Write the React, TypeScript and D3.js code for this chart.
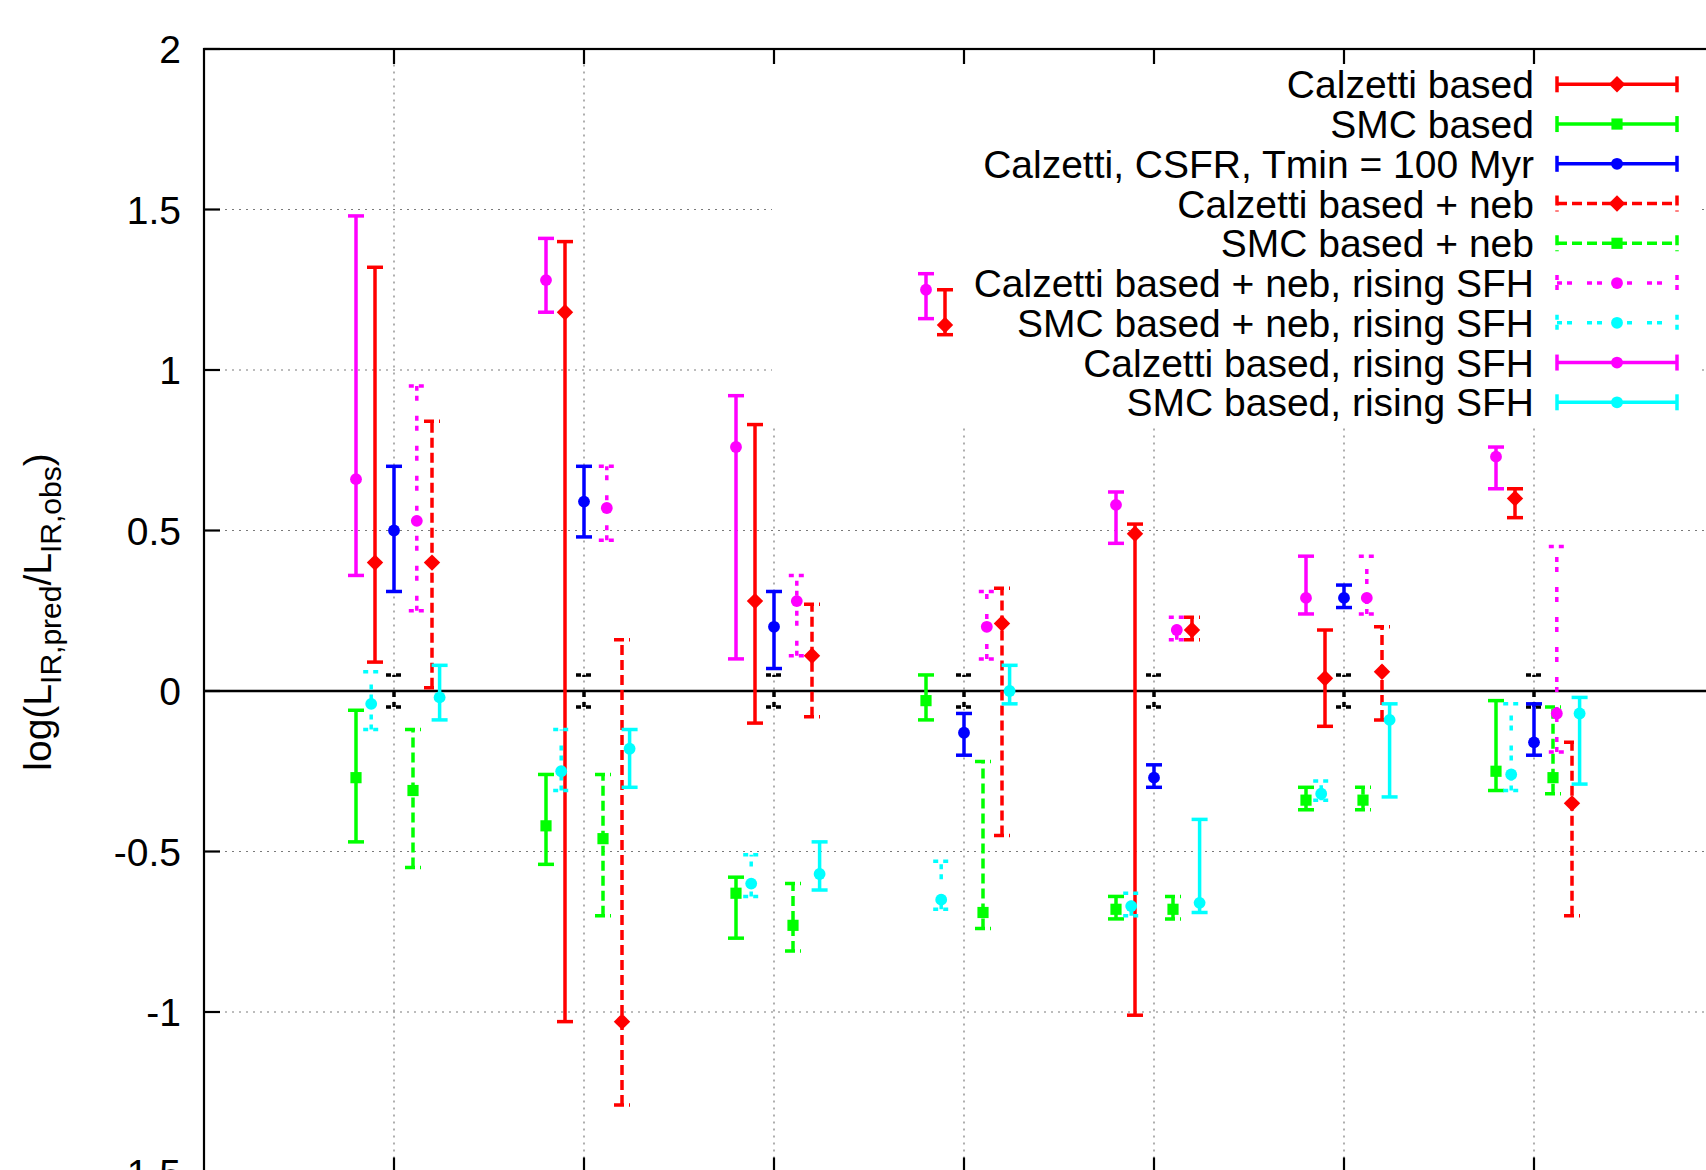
import React from 'react';
import * as d3 from 'd3';

const width = 1706;
const height = 1170;
const margin = {top: 49, left: 204};
const plotRight = 1724;
const plotBottom = 1172.5;
const font = '"Liberation Sans", Arial, Helvetica, sans-serif';

// group positions along x (no labels visible in the crop)
const groups = [1, 2, 3, 4, 5, 6, 7];
const xTicks = [1, 2, 3, 4, 5, 6, 7];
const yTicks = [-1.5, -1, -0.5, 0, 0.5, 1, 1.5, 2];
const yTickLabels = ['-1.5', '-1', '-0.5', '0', '0.5', '1', '1.5', '2'];
const yGrid = [-1, -0.5, 0.5, 1, 1.5];

// [value, low, high] for each group
const calzettiBased = [[0.40, 0.09, 1.32], [1.18, -1.03, 1.40], [0.28, -0.10, 0.83], [1.14, 1.11, 1.25], [0.49, -1.01, 0.52], [0.04, -0.11, 0.19], [0.60, 0.54, 0.63]];
const smcBased = [[-0.27, -0.47, -0.06], [-0.42, -0.54, -0.26], [-0.63, -0.77, -0.58], [-0.03, -0.09, 0.05], [-0.68, -0.71, -0.64], [-0.34, -0.37, -0.30], [-0.25, -0.31, -0.03]];
const calzettiCsfr = [[0.50, 0.31, 0.70], [0.59, 0.48, 0.70], [0.20, 0.07, 0.31], [-0.13, -0.20, -0.07], [-0.27, -0.30, -0.23], [0.29, 0.26, 0.33], [-0.16, -0.20, -0.04]];
const calzettiNeb = [[0.40, 0.01, 0.84], [-1.03, -1.29, 0.16], [0.11, -0.08, 0.27], [0.21, -0.45, 0.32], [0.19, 0.16, 0.23], [0.06, -0.09, 0.20], [-0.35, -0.70, -0.16]];
const smcNeb = [[-0.31, -0.55, -0.12], [-0.46, -0.70, -0.26], [-0.73, -0.81, -0.60], [-0.69, -0.74, -0.22], [-0.68, -0.71, -0.64], [-0.34, -0.37, -0.30], [-0.27, -0.32, -0.05]];
const calzettiNebRising = [[0.53, 0.25, 0.95], [0.57, 0.47, 0.70], [0.28, 0.11, 0.36], [0.20, 0.10, 0.31], [0.19, 0.16, 0.23], [0.29, 0.24, 0.42], [-0.07, -0.19, 0.45]];
const smcNebRising = [[-0.04, -0.12, 0.06], [-0.25, -0.31, -0.12], [-0.60, -0.64, -0.51], [-0.65, -0.68, -0.53], [-0.67, -0.70, -0.63], [-0.32, -0.34, -0.28], [-0.26, -0.31, -0.04]];
const calzettiRising = [[0.66, 0.36, 1.48], [1.28, 1.18, 1.41], [0.76, 0.10, 0.92], [1.25, 1.16, 1.30], [0.58, 0.46, 0.62], [0.29, 0.24, 0.42], [0.73, 0.63, 0.76]];
const smcRising = [[-0.02, -0.09, 0.08], [-0.18, -0.30, -0.12], [-0.57, -0.62, -0.47], [0.00, -0.04, 0.08], [-0.66, -0.69, -0.40], [-0.09, -0.33, -0.04], [-0.07, -0.29, -0.02]];
const reference = [[0, -0.05, 0.05], [0, -0.05, 0.05], [0, -0.05, 0.05], [0, -0.05, 0.05], [0, -0.05, 0.05], [0, -0.05, 0.05], [0, -0.05, 0.05]];

const DASHED = '10,5';
const DOTTED = '5,5,5,15';

const series = [
  {name: 'Calzetti based', data: calzettiBased, color: '#ff0000', dash: null, marker: 'diamond', offset: -0.1},
  {name: 'SMC based', data: smcBased, color: '#00ff00', dash: null, marker: 'square', offset: -0.2},
  {name: 'Calzetti, CSFR, Tmin = 100 Myr', data: calzettiCsfr, color: '#0000ff', dash: null, marker: 'circle', offset: 0},
  {name: 'Calzetti based + neb', data: calzettiNeb, color: '#ff0000', dash: DASHED, marker: 'diamond', offset: 0.2},
  {name: 'SMC based + neb', data: smcNeb, color: '#00ff00', dash: DASHED, marker: 'square', offset: 0.1},
  {name: 'Calzetti based + neb, rising SFH', data: calzettiNebRising, color: '#ff00ff', dash: DOTTED, marker: 'circle', offset: 0.12},
  {name: 'SMC based + neb, rising SFH', data: smcNebRising, color: '#00ffff', dash: DOTTED, marker: 'circle', offset: -0.12},
  {name: 'Calzetti based, rising SFH', data: calzettiRising, color: '#ff00ff', dash: null, marker: 'circle', offset: -0.2},
  {name: 'SMC based, rising SFH', data: smcRising, color: '#00ffff', dash: null, marker: 'circle', offset: 0.24},
];

const x = d3.scaleLinear().domain([0, 8]).range([margin.left, plotRight]);
const y = d3.scaleLinear().domain([-1.5, 2]).range([plotBottom, margin.top]);

const CAP = 8;
const LW = 3.5;

const symbols = {
  diamond: d3.symbol(d3.symbolSquare, 135)(),
  square: d3.symbol(d3.symbolSquare, 125)(),
  circle: d3.symbol(d3.symbolCircle, 110)(),
};

function Marker({kind, cx, cy, color}) {
  if (!kind) return null;
  const rot = kind === 'diamond' ? ' rotate(45)' : '';
  return <path d={symbols[kind]} transform={`translate(${cx},${cy})${rot}`} fill={color} />;
}

function ErrorBar({cx, v, lo, hi, color, dash, marker}) {
  const common = {stroke: color, strokeWidth: LW, strokeDasharray: dash || undefined, fill: 'none'};
  return (
    <g>
      <line x1={cx} x2={cx} y1={y(lo)} y2={y(hi)} {...common} />
      <line x1={cx - CAP} x2={cx + CAP} y1={y(hi)} y2={y(hi)} {...common} />
      <line x1={cx - CAP} x2={cx + CAP} y1={y(lo)} y2={y(lo)} {...common} />
      <Marker kind={marker} cx={cx} cy={y(v)} color={color} />
    </g>
  );
}

function Legend() {
  const x1 = 1557, x2 = 1677, xm = 1617, textX = 1534;
  return (
    <g>
      {series.map((s, i) => {
        const ry = 84.3 + 39.75 * i;
        const common = {stroke: s.color, strokeWidth: LW, strokeDasharray: s.dash || undefined};
        return (
          <g key={s.name}>
            <text x={textX} y={ry} dy="0.36em" textAnchor="end" fontSize={39} fontFamily={font} fill="#000">{s.name}</text>
            <line x1={x1} x2={x2} y1={ry} y2={ry} {...common} />
            <line x1={x1} x2={x1} y1={ry - CAP} y2={ry + CAP} {...common} />
            <line x1={x2} x2={x2} y1={ry - CAP} y2={ry + CAP} {...common} />
            <Marker kind={s.marker} cx={xm} cy={ry} color={s.color} />
          </g>
        );
      })}
    </g>
  );
}

export default function App() {
  const gridStyle = {stroke: '#7a7a7a', strokeWidth: 1.2, strokeDasharray: '2,5'};
  return (
    <svg width={width} height={height} style={{position: 'absolute', left: 0, top: 0, background: '#fff'}}>
      <rect x={0} y={0} width={width} height={height} fill="#fff" />
      {/* grid */}
      {xTicks.map(t => (
        <line key={'gx' + t} x1={x(t)} x2={x(t)} y1={plotBottom} y2={margin.top} {...gridStyle} />
      ))}
      {yGrid.map(t => (
        <line key={'gy' + t} x1={margin.left} x2={plotRight} y1={y(t)} y2={y(t)} {...gridStyle} />
      ))}
      {/* opaque key background */}
      <rect x={772} y={margin.top + 1} width={925} height={375} fill="#fff" />
      {/* zero axis */}
      <line x1={margin.left} x2={plotRight} y1={y(0)} y2={y(0)} stroke="#000" strokeWidth={2.5} />
      {/* reference bars */}
      {groups.map((g, i) => (
        <ErrorBar key={'ref' + g} cx={x(g)} v={reference[i][0]} lo={reference[i][1]} hi={reference[i][2]} color="#000" dash={DOTTED} marker={null} />
      ))}
      {/* data */}
      {series.map(s => (
        <g key={s.name}>
          {groups.map((g, i) => (
            <ErrorBar key={g} cx={x(g + s.offset)} v={s.data[i][0]} lo={s.data[i][1]} hi={s.data[i][2]}
              color={s.color} dash={s.dash} marker={s.marker} />
          ))}
        </g>
      ))}
      <Legend />
      {/* border and ticks */}
      <rect x={margin.left} y={margin.top} width={plotRight - margin.left} height={plotBottom - margin.top}
        fill="none" stroke="#000" strokeWidth={2.2} />
      {xTicks.map(t => (
        <g key={'tx' + t}>
          <line x1={x(t)} x2={x(t)} y1={margin.top} y2={margin.top + 15} stroke="#000" strokeWidth={2.2} />
          <line x1={x(t)} x2={x(t)} y1={plotBottom} y2={plotBottom - 15} stroke="#000" strokeWidth={2.2} />
        </g>
      ))}
      {yTicks.map((t, i) => (
        <g key={'ty' + t}>
          <line x1={margin.left} x2={margin.left + 16} y1={y(t)} y2={y(t)} stroke="#000" strokeWidth={2.2} />
          <text x={181} y={y(t)} dy="0.36em" textAnchor="end" fontSize={39} fontFamily={font} fill="#000">{yTickLabels[i]}</text>
        </g>
      ))}
      {/* y label */}
      <text transform="rotate(-90)" x={-612} y={50.5} textAnchor="middle" fontSize={39} fontFamily={font} fill="#000">
        log(L<tspan fontSize={30} dy={10}>IR,pred</tspan><tspan dy={-10}>/L</tspan><tspan fontSize={30} dy={10}>IR,obs</tspan><tspan dy={-10}>)</tspan>
      </text>
    </svg>
  );
}
